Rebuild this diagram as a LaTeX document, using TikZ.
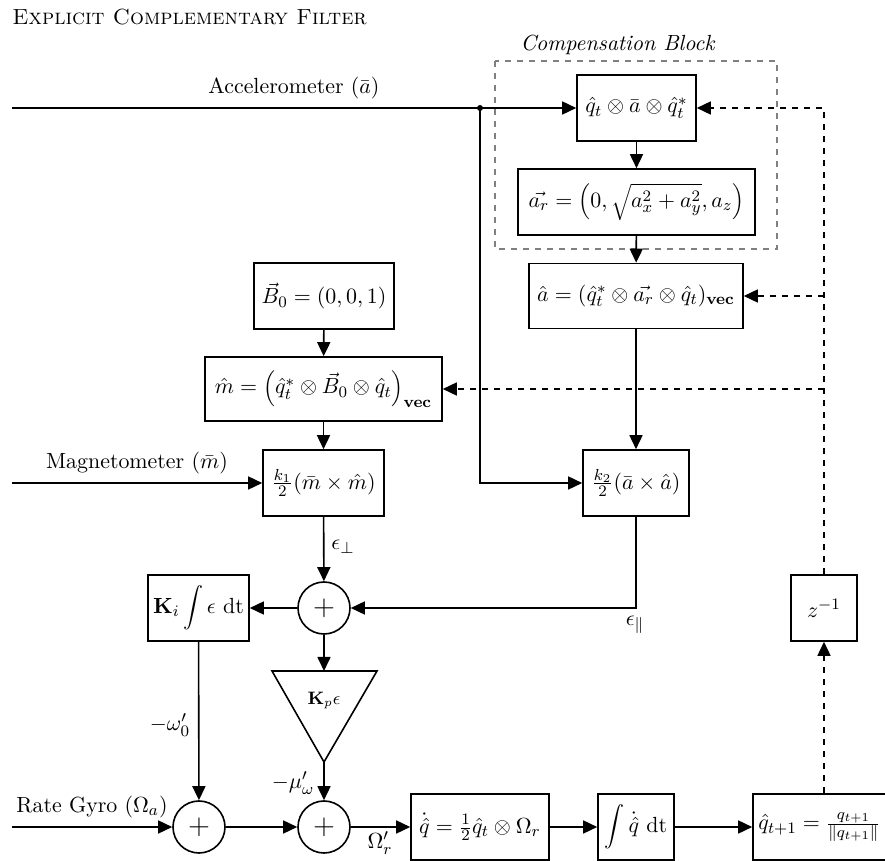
\documentclass[11pt,tikz,border=0pt]{standalone}
\usetikzlibrary{arrows.meta,calc}
\begin{document}
\begin{tikzpicture}[x=0.5pt,y=-0.5pt,
  box/.style={draw,thick,inner sep=2pt,align=center},
  sumc/.style={draw,thick,circle,minimum size=26pt,inner sep=0pt,font=\Large},
  arr/.style={thick,-{Triangle[length=7pt,width=6.5pt]}},
  fb/.style={arr,dashed},
  lbl/.style={inner sep=1pt}]
\useasboundingbox (0,0) rectangle (885,861);
% title
\node[anchor=west,inner sep=0pt] (title) at (12,17) {\textsc{Explicit Complementary Filter}};
% compensation block
\draw[gray,dashed,thick] (495,61) rectangle (777,249);
\node (complbl) at (618,45) {\textit{Compensation Block}};
% boxes
\node[box,minimum width=59.5pt,minimum height=33pt] (b1) at (636.5,108) {$\hat{q}_t\otimes\bar{a}\otimes\hat{q}_t^{*}$};
\node[box,minimum width=118.5pt,minimum height=33pt] (b2) at (636.5,202) {$\vec{a_r}=\left(0,\sqrt{a_x^2+a_y^2},a_z\right)$};
\node[box,minimum width=107pt,minimum height=32.5pt] (b3) at (636,296) {$\hat{a}=(\hat{q}_t^{*}\otimes\vec{a_r}\otimes\hat{q}_t)_{\mathbf{vec}}$};
\node[box,minimum width=70pt,minimum height=33pt] (B0) at (324,296) {$\vec{B}_0=(0,0,1)$};
\node[box,minimum width=118.5pt,minimum height=32pt] (mh) at (323.5,389) {$\hat{m}=\left(\hat{q}_t^{*}\otimes\vec{B}_0\otimes\hat{q}_t\right)_{\mathbf{vec}}$};
\node[box,minimum width=60.5pt,minimum height=33pt] (k1) at (323.5,483) {$\frac{k_1}{2}(\bar{m}\times\hat{m})$};
\node[box,minimum width=53pt,minimum height=33pt] (k2) at (636,483) {$\frac{k_2}{2}(\bar{a}\times\hat{a})$};
\node[sumc] (s1) at (324,608) {$+$};
\node[box,minimum width=50.5pt,minimum height=33pt] (Ki) at (198.5,608) {$\mathbf{K}_i\displaystyle\int\epsilon\ \mathrm{dt}$};
\node[box,minimum width=33pt,minimum height=33pt] (z) at (824,608) {$z^{-1}$};
% Kp triangle
\coordinate (kpT) at (324,671);
\coordinate (kpA) at (324,762);
\draw[thick] (272,671) -- (377,671) -- (kpA) -- cycle;
\node[font=\footnotesize] (kp) at (324,700) {$\mathbf{K}_p\epsilon$};
\node[sumc] (s2) at (199,827) {$+$};
\node[sumc] (s3) at (324,827) {$+$};
\node[box,minimum width=69pt,minimum height=33pt] (qd) at (480,827) {$\dot{\hat{q}}=\frac{1}{2}\hat{q}_t\otimes\Omega_r$};
\node[box,minimum width=38pt,minimum height=33pt] (int) at (636,827) {$\displaystyle\int\dot{\hat{q}}\ \mathrm{dt}$};
\node[box,minimum width=66.5pt,minimum height=33pt] (qn) at (819.5,827) {$\hat{q}_{t+1}=\frac{q_{t+1}}{\|q_{t+1}\|}$};
% inputs
\coordinate (accIn) at (12,108);
\coordinate (magIn) at (12,483);
\coordinate (gyrIn) at (12,827);
\coordinate (jct) at (480,108);
\draw[arr] (accIn) -- (b1.west);
\node (acclbl) at (294,88) {Accelerometer ($\bar{a}$)};
\fill (jct) circle (3);
\draw[arr] (jct) |- (k2.west);
\draw[arr] (magIn) -- (k1.west);
\node (maglbl) at (137,463) {Magnetometer ($\bar{m}$)};
\draw[arr] (gyrIn) -- (s2.west);
\node (gyrlbl) at (92,807) {Rate Gyro ($\Omega_a$)};
% main chain
\draw[arr] (b1) -- (b2);
\draw[arr] (b2) -- (b3);
\draw[arr] (b3) -- (k2);
\draw[arr] (B0) -- (mh);
\draw[arr] (mh) -- (k1);
\draw[arr] (k1) -- (s1);
\node[lbl] (eperp) at (343,547) {$\epsilon_{\perp}$};
\draw[arr] (k2.south) |- (s1.east);
\node[lbl] (epar) at (635,625) {$\epsilon_{\|}$};
\draw[arr] (s1) -- (Ki);
\draw[arr] (s1) -- (kpT);
\draw[arr] (Ki) -- (s2);
\node[lbl] (om0) at (170,725) {$-\omega_0'$};
\draw[arr] (kpA) -- (s3);
\node[lbl] (muw) at (293,783) {$-\mu_\omega'$};
\draw[arr] (s2) -- (s3);
\draw[arr] (s3) -- (qd);
\node[lbl] (omr) at (380,843) {$\Omega_r'$};
\draw[arr] (qd) -- (int);
\draw[arr] (int) -- (qn);
% feedback
\draw[fb] (z.south |- qn.north) -- (z.south);
\draw[fb] (z.north) |- (b1.east);
\draw[fb] (z.north |- b3.east) -- (b3.east);
\draw[fb] (z.north |- mh.east) -- (mh.east);
\end{tikzpicture}
\end{document}
